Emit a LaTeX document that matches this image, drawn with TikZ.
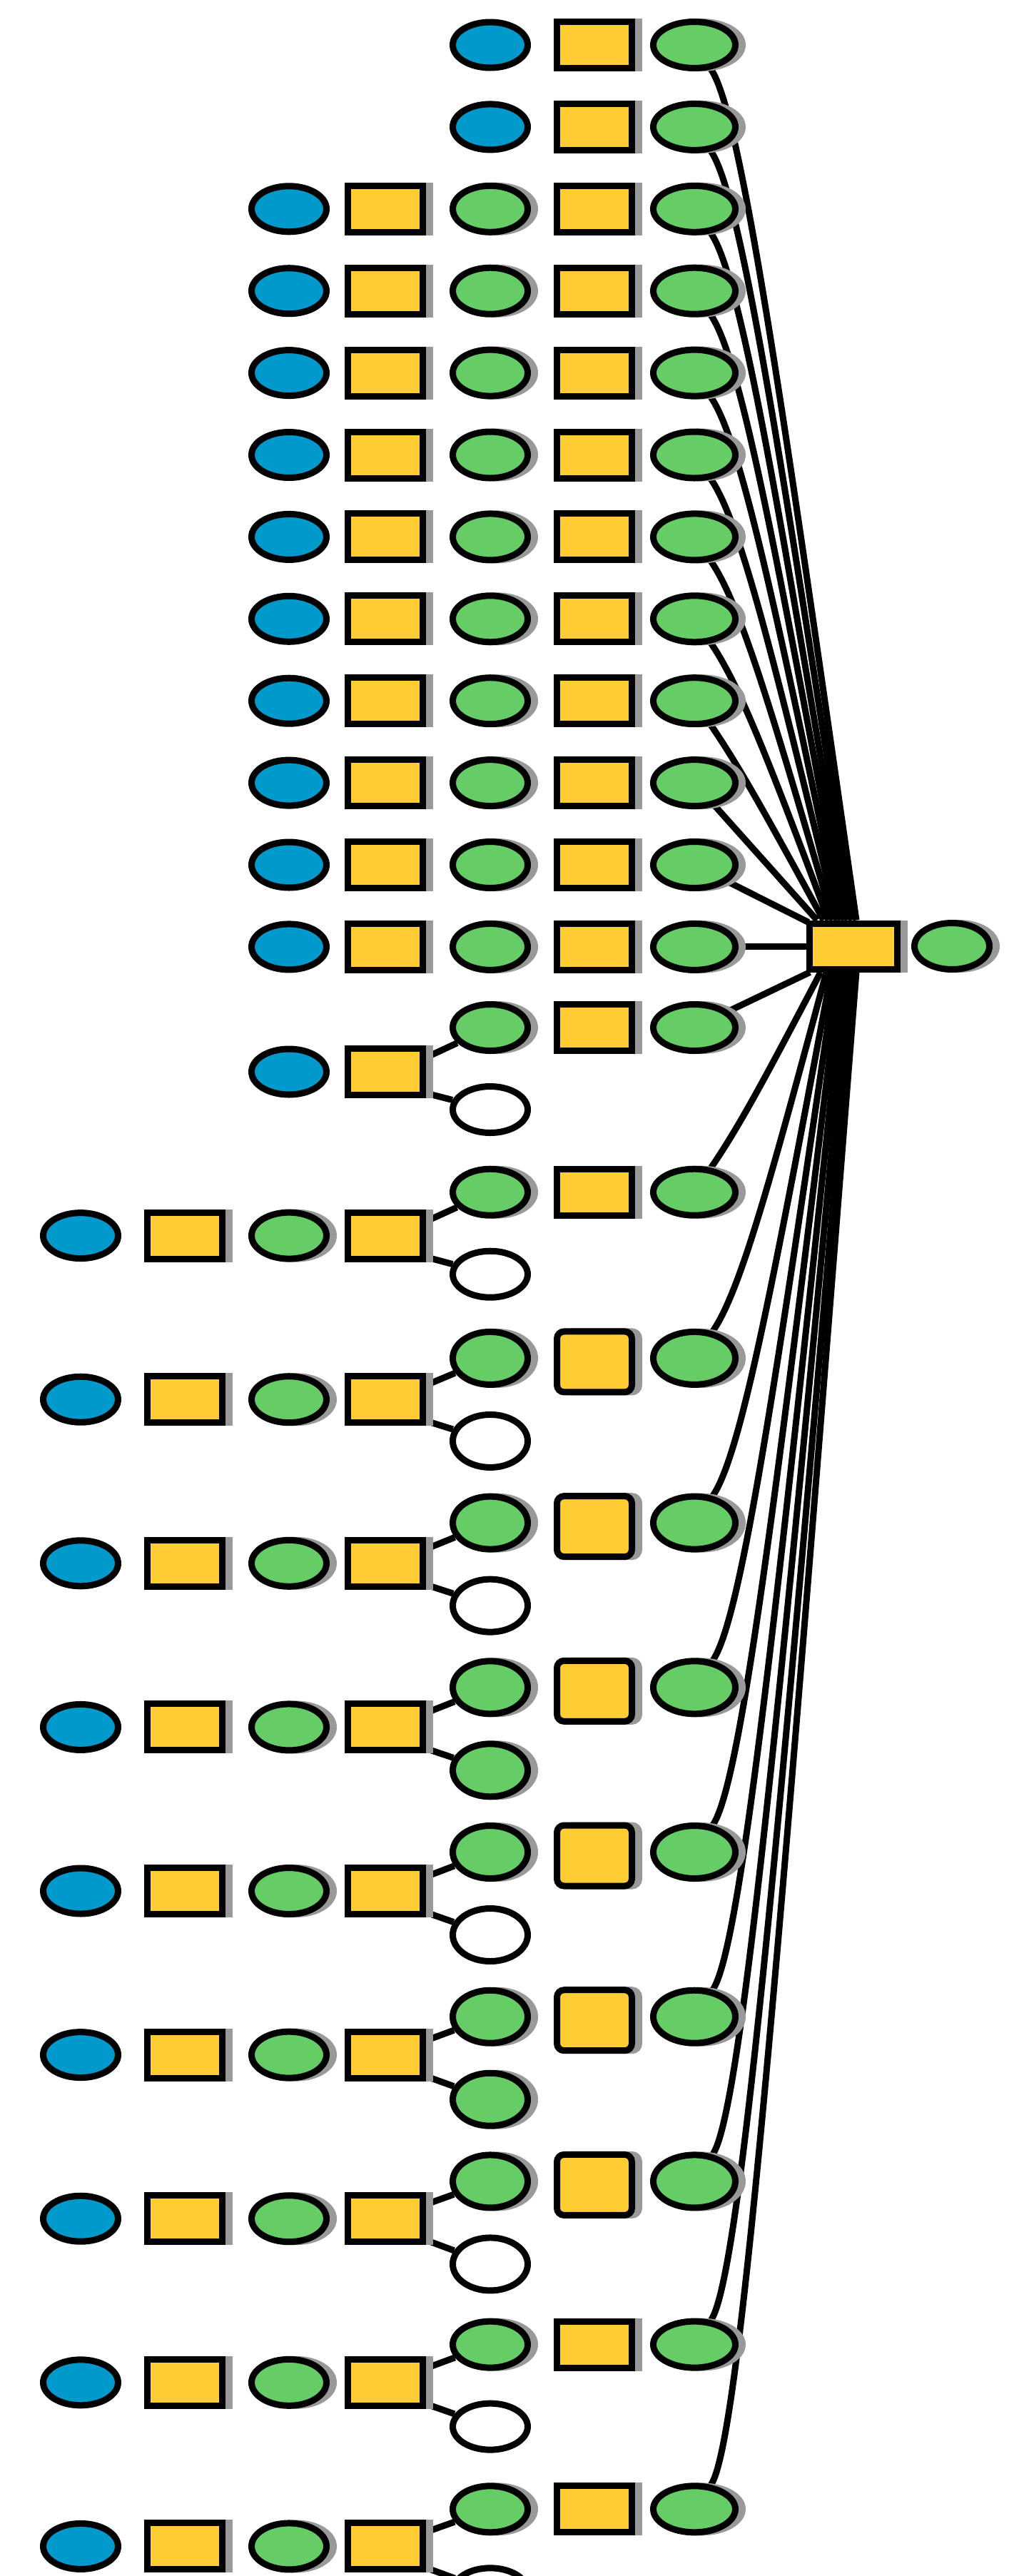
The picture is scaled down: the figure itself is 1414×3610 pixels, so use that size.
\documentclass[tikz,border=0pt]{standalone}
\usetikzlibrary{shapes.geometric,shadows,calc}
\pgfdeclarelayer{bg}
\pgfsetlayers{bg,main}
\definecolor{blu}{HTML}{0099CC}
\definecolor{yel}{HTML}{FFCC33}
\definecolor{grn}{HTML}{66CC66}
\definecolor{shd}{HTML}{999999}
\tikzset{
  bord/.style={draw=black, line width=4.5pt, inner sep=0pt},
  sh/.style={general shadow={fill=shd, draw=shd, line width=4.5pt, shadow xshift=5pt, shadow yshift=0pt}},
  bluell/.style={bord, ellipse, fill=blu, minimum width=52.5pt, minimum height=32pt},
  ybox/.style={bord, sh, rectangle, fill=yel, minimum width=52.5pt, minimum height=32.5pt},
  tbox/.style={ybox, minimum height=42.5pt, rounded corners=5pt},
  gell/.style={bord, sh, ellipse, fill=grn, minimum width=52.5pt, minimum height=32.5pt},
  gellT/.style={gell, minimum height=37pt},
  gG/.style={gell, minimum width=57.5pt},
  gGT/.style={gG, minimum height=37pt},
  well/.style={bord, ellipse, fill=white, minimum width=52.5pt, minimum height=32.5pt},
  wellT/.style={well, minimum height=37pt},
  cbox/.style={ybox, minimum width=61.5pt, minimum height=32pt},
  conn/.style={draw=black, line width=4.5pt},
}
\begin{document}
\begin{tikzpicture}[x=0.5pt, y=-0.5pt]
\useasboundingbox (0,0) rectangle (1414,3610);
\clip (0,0) rectangle (1414,3610);
% central nodes
\node[cbox] (C) at (1196,1326) {};
\node[gell] (fin) at (1334,1326) {};
% rows 1-2
\foreach \k in {1,2} {
  \pgfmathsetmacro{\yy}{63+114.9*(\k-1)}
  \node[bluell] (re\k) at (687,\yy) {};
  \node[ybox] (rf\k) at (833,\yy) {};
  \node[gG] (rg\k) at (973,\yy) {};
}
% rows 3-12
\foreach \k in {3,...,12} {
  \pgfmathsetmacro{\yy}{63+114.9*(\k-1)}
  \node[bluell] (rc\k) at (405,\yy) {};
  \node[ybox] (rd\k) at (540,\yy) {};
  \node[gell] (re\k) at (687,\yy) {};
  \node[ybox] (rf\k) at (833,\yy) {};
  \node[gG] (rg\k) at (973,\yy) {};
}
% groups
\foreach \k/\ue/\ub/\lo/\sE/\sF/\sG/\sL in {
 1/0/0/115/gell/ybox/gG/well, 2/0/0/115/gell/ybox/gG/well,
 3/2/7/118/gellT/tbox/gGT/wellT, 4/2/7/118/gellT/tbox/gGT/wellT,
 5/2/7/118/gellT/tbox/gGT/gellT, 6/2/7/118/gellT/tbox/gGT/wellT,
 7/2/7/118/gellT/tbox/gGT/gellT, 8/2/7/118/gellT/tbox/gGT/wellT,
 9/0/0/115/gell/ybox/gG/well, 10/0/0/115/gell/ybox/gG/well} {
  \pgfmathsetmacro{\U}{1440+230.7*(\k-1)}
  \pgfmathsetmacro{\M}{\U+62-1.1*(\k-1)}
  \node[\sE] (ue\k) at (687,\U+\ue) {};
  \node[\sF] (uf\k) at (833,\U+\ub) {};
  \node[\sG] (ug\k) at (973,\U+\ue) {};
  \node[\sL] (ul\k) at (687,\U+\lo) {};
  \ifnum\k=1
    \node[bluell] (uc\k) at (405,\M) {};
  \else
    \node[bluell] (ua\k) at (113,\M) {};
    \node[ybox] (ub\k) at (259,\M) {};
    \node[gell] (uc\k) at (405,\M) {};
  \fi
  \node[ybox] (ud\k) at (540,\M) {};
}
\begin{pgfonlayer}{bg}
\foreach \k in {1,...,10} {
  \draw[conn] ($(ud\k.east)+(0,-20)$) -- (ue\k);
  \draw[conn] ($(ud\k.east)+(0,30)$) -- (ul\k);
}
\foreach \k/\o in {1/70,2/64,3/58,4/53,5/48,6/43,7/37,8/31,9/24} {
  \coordinate (tc\k) at ($(rg\k)+(65,95)$);
  \coordinate (te\k) at ($(C.north west)+(\o,0)$);
  \draw[conn] (rg\k) .. controls (tc\k) and ($(tc\k)!0.35!(te\k)$) .. (te\k);
}
\draw[conn] (rg10) -- ($(C.north west)+(15,0)$);
\draw[conn] (rg11) -- ($(C.north west)+(3,3)$);
\draw[conn] (rg12.east) -- (rg12.east -| C.west);
\foreach \k/\o in {2/20,3/28,4/35,5/41,6/47,7/53,8/59,9/65,10/70} {
  \coordinate (bc\k) at ($(ug\k)+(65,-95)$);
  \coordinate (be\k) at ($(C.south west)+(\o,0)$);
  \draw[conn] (ug\k) .. controls (bc\k) and ($(bc\k)!0.35!(be\k)$) .. (be\k);
}
\draw[conn] (ug1) -- ($(C.south west)+(5,0)$);
\end{pgfonlayer}
\end{tikzpicture}
\end{document}
